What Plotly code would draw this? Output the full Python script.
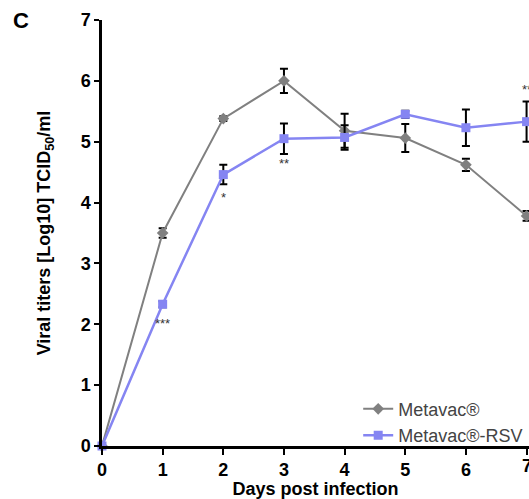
import plotly.graph_objects as go

days = [0, 1, 2, 3, 4, 5, 6, 7]
metavac = [0, 3.50, 5.38, 6.00, 5.18, 5.06, 4.62, 3.78]
metavac_err = [0, 0.08, 0.04, 0.20, 0.28, 0.23, 0.10, 0.08]
rsv = [0, 2.33, 4.46, 5.05, 5.07, 5.45, 5.23, 5.33]
rsv_err = [0, 0.05, 0.16, 0.25, 0.20, 0.06, 0.30, 0.33]

sig_days = [1, 2, 3, 7]
sig_labels = ["***", "*", "**", "**"]
sig_y = [2.02, 4.08, 4.64, 5.86]

grey = "#808080"
blue = "#8585f2"
font = "Liberation Sans, Arial, sans-serif"

fig = go.Figure()
fig.add_trace(go.Scatter(
    x=days, y=metavac, mode="lines+markers", name="Metavac®",
    line=dict(color=grey, width=2),
    marker=dict(symbol="diamond", size=9, color=grey),
    error_y=dict(type="data", array=metavac_err, color="black", thickness=2, width=4),
    cliponaxis=False,
))
fig.add_trace(go.Scatter(
    x=days, y=rsv, mode="lines+markers", name="Metavac®-RSV",
    line=dict(color=blue, width=2.5),
    marker=dict(symbol="square", size=9, color=blue),
    error_y=dict(type="data", array=rsv_err, color="black", thickness=2, width=4),
    cliponaxis=False,
))

for d, lab, yy in zip(sig_days, sig_labels, sig_y):
    fig.add_annotation(x=d, y=yy, text=lab, showarrow=False,
                       font=dict(family=font, size=13, color="#333333"))

# last tick label, partly cut at the right edge as in the original
fig.add_annotation(x=days[-1], xref="x", yref="paper", y=-0.018, yanchor="top",
                   text=str(days[-1]), showarrow=False,
                   font=dict(family=font, size=18, color="black", weight="bold"))

fig.add_annotation(xref="paper", yref="paper", x=-0.19, y=1.0, text="<b>C</b>",
                   showarrow=False, xanchor="center", yanchor="middle",
                   font=dict(family=font, size=22, color="black"))

fig.update_layout(
    width=529, height=499,
    margin=dict(l=102, r=0, t=20, b=53),
    plot_bgcolor="white", paper_bgcolor="white",
    showlegend=True,
    legend=dict(x=0.6, y=0.13, xanchor="left", yanchor="top",
                bgcolor="rgba(0,0,0,0)", tracegroupgap=0,
                font=dict(family=font, size=18, color="#444444"),
                itemwidth=30),
    font=dict(family=font, color="black"),
)
fig.update_xaxes(
    range=[0, 7.04], tickvals=days, ticktext=[str(d) for d in days],
    showline=True, linecolor="black", linewidth=2.5,
    ticks="outside", ticklen=6, tickwidth=2, tickcolor="black",
    ticklabelstandoff=0,
    showgrid=False, zeroline=False,
    tickfont=dict(family=font, size=18, color="black", weight="bold"),
    title=dict(text="Days post infection", standoff=4,
               font=dict(family=font, size=18, color="black", weight="bold")),
)
fig.update_yaxes(
    range=[0, 7], tickvals=[0, 1, 2, 3, 4, 5, 6, 7],
    showline=True, linecolor="black", linewidth=2.5,
    ticks="outside", ticklen=5, tickwidth=2, tickcolor="black",
    ticklabelstandoff=0,
    showgrid=False, zeroline=False,
    tickfont=dict(family=font, size=18, color="black", weight="bold"),
    title=dict(text="Viral titers [Log10] TCID<sub>50</sub>/ml", standoff=26,
               font=dict(family=font, size=18, color="black", weight="bold")),
)

fig.write_html("out.html")
